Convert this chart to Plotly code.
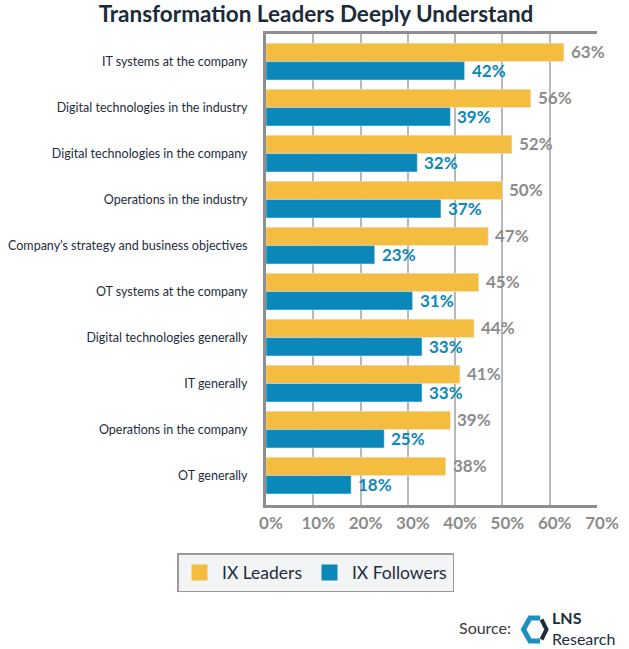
import plotly.graph_objects as go

categories = [
    "IT systems at the company",
    "Digital technologies in the industry",
    "Digital technologies in the company",
    "Operations in the industry",
    "Company\u2019s strategy and business objectives",
    "OT systems at the company",
    "Digital technologies generally",
    "IT generally",
    "Operations in the company",
    "OT generally",
]
leaders = [63, 56, 52, 50, 47, 45, 44, 41, 39, 38]
followers = [42, 39, 32, 37, 23, 31, 33, 33, 25, 18]
x_ticks = [0, 10, 20, 30, 40, 50, 60, 70]
x_tick_labels = ["0%", "10%", "20%", "30%", "40%", "50%", "60%", "70%"]

YELLOW = "#F5BD3F"
BLUE = "#0A88BA"
GRAY_TXT = "#8C8C8C"
NAVY = "#1E2D3D"
FONT = "Lato"

W, H = 629, 649
L, R, T, B = 266, 32, 34, 144
PW, PH = W - L - R, H - T - B


def px(x):
    return (x - L) / PW


def py(y):
    return (H - B - y) / PH


fig = go.Figure()
fig.add_trace(go.Bar(y=categories, x=leaders, orientation="h", name="IX Leaders",
                     marker=dict(color=YELLOW), showlegend=False, legendgroup="l"))
fig.add_trace(go.Bar(y=categories, x=followers, orientation="h", name="IX Followers",
                     marker=dict(color=BLUE), showlegend=False, legendgroup="f"))
# legend entries with larger swatches
fig.add_trace(go.Scatter(x=[None], y=[None], mode="markers", name="IX Leaders",
                         marker=dict(symbol="square", size=30, color=YELLOW), legendgroup="l"))
fig.add_trace(go.Scatter(x=[None], y=[None], mode="markers", name="IX Followers",
                         marker=dict(symbol="square", size=30, color=BLUE), legendgroup="f"))

annotations = []
for c, v in zip(categories, leaders):
    annotations.append(dict(x=v, y=c, xref="x", yref="y", text=f"{v}%", showarrow=False,
                            xanchor="left", yanchor="middle", xshift=5, yshift=10,
                            font=dict(family=FONT, size=17, color=GRAY_TXT, weight="bold")))
for c, v in zip(categories, followers):
    annotations.append(dict(x=v, y=c, xref="x", yref="y", text=f"{v}%", showarrow=False,
                            xanchor="left", yanchor="middle", xshift=5, yshift=-9,
                            font=dict(family=FONT, size=17, color=BLUE, weight="bold")))

annotations += [
    dict(x=px(457), y=py(627), xref="paper", yref="paper", text="Source:", showarrow=False,
         xanchor="left", yanchor="middle", font=dict(family=FONT, size=16, color="#3A3A3A")),
    dict(x=px(551), y=py(627.5), xref="paper", yref="paper", text="LNS", showarrow=False,
         xanchor="left", yanchor="bottom", borderpad=0,
         font=dict(family=FONT, size=16, color=NAVY, weight="bold")),
    dict(x=px(551), y=py(627.5), xref="paper", yref="paper", text="Research", showarrow=False,
         xanchor="left", yanchor="top", borderpad=0,
         font=dict(family=FONT, size=16, color=NAVY)),
]


def path(points):
    return "M " + " L ".join(f"{px(a)},{py(b)}" for a, b in points)


shapes = [
    dict(type="path", xref="paper", yref="paper",
         path=path([(540, 618), (530, 618), (523.5, 629.5), (530, 641), (540, 641)]),
         line=dict(color="#1A8FC0", width=5)),
    dict(type="path", xref="paper", yref="paper",
         path=path([(541.5, 619.5), (546.5, 629.5), (541.5, 639.5)]),
         line=dict(color=NAVY, width=4)),
]

fig.update_layout(
    width=W, height=H,
    margin=dict(l=L, r=R, t=T, b=B, autoexpand=False),
    paper_bgcolor="white", plot_bgcolor="white",
    barmode="group", bargap=0.2, bargroupgap=0,
    font=dict(family=FONT, color=NAVY),
    title=dict(text="<b>Transformation Leaders Deeply Understand</b>", x=316 / W, xanchor="center",
               y=1 - 14 / H, yanchor="middle", font=dict(family=FONT, size=22.5, color="#1C2B3A")),
    legend=dict(orientation="h", xref="container", yref="container", x=177 / W, xanchor="left",
                y=1 - 553 / H, yanchor="top", bgcolor="#F3F4F6", bordercolor="#9A9A9A", borderwidth=1.5,
                font=dict(family=FONT, size=17.5, color=NAVY), itemsizing="trace", itemwidth=35),
    xaxis=dict(range=[0, 70], tickvals=x_ticks, ticktext=x_tick_labels, showgrid=True,
               gridcolor="#B8B8B8", gridwidth=1.5, zeroline=False, showline=True, mirror=True,
               linecolor="#8E8E8E", linewidth=3, ticks="", automargin=False,
               tickfont=dict(family=FONT, size=17, color=GRAY_TXT, weight="bold"),
               ticklabelshift=5, ticklabelstandoff=1),
    yaxis=dict(categoryorder="array", categoryarray=categories, range=[9.64, -0.6],
               showgrid=False, zeroline=False, showline=True, linecolor="#8E8E8E", linewidth=3,
               ticks="", automargin=False,
               tickfont=dict(family=FONT, size=12.5, color=NAVY), ticklabelstandoff=13),
    annotations=annotations,
    shapes=shapes,
)

fig.write_html("out.html", config={"displayModeBar": False},
               post_script="document.body.style.margin='0';")
